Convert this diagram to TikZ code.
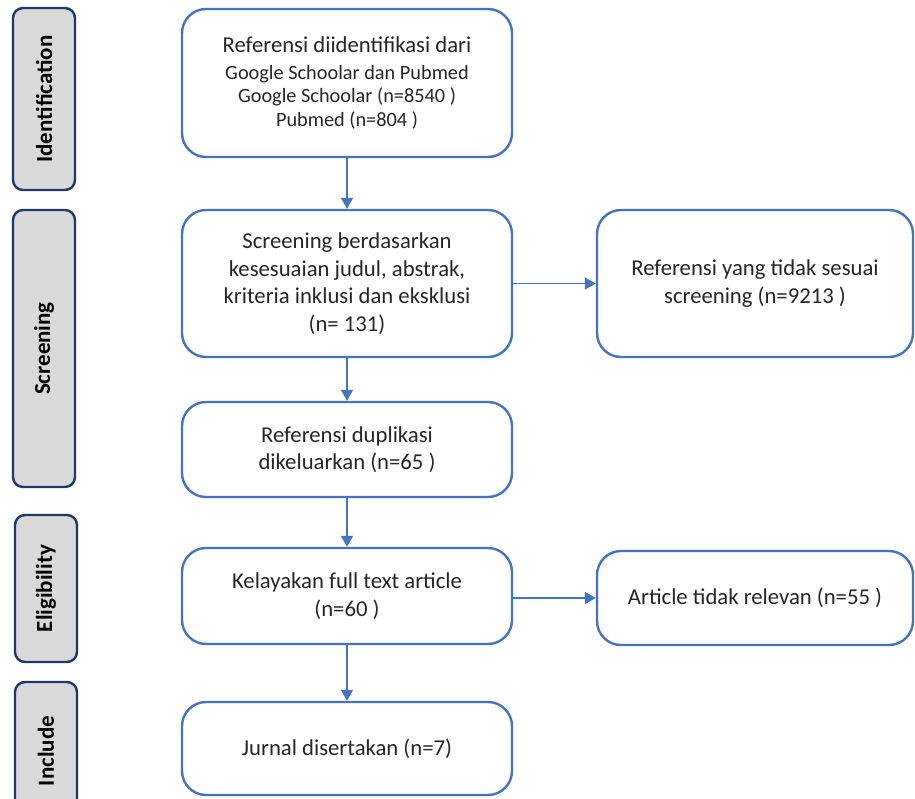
\documentclass[tikz,border=0pt]{standalone}
\usepackage{fontspec}
\setmainfont{Carlito}
\usetikzlibrary{arrows.meta}
\definecolor{boxblue}{HTML}{4472C4}
\definecolor{sidefill}{HTML}{D9D9D9}
\definecolor{sideline}{HTML}{1F3864}
\definecolor{txt}{HTML}{262626}
\begin{document}
\begin{tikzpicture}[x=1pt,y=-1pt,
 flowbox/.style={draw=boxblue, line width=2.4pt, rounded corners=24pt, fill=white, align=center, text=txt, font=\fontsize{22.7}{27.5}\selectfont, inner sep=0pt},
 sidebox/.style={draw=sideline, line width=2.4pt, rounded corners=10pt, fill=sidefill, inner sep=0pt, rotate=90, font=\fontsize{23}{26}\selectfont\bfseries, text=black},
 flow/.style={draw=boxblue, line width=1.4pt, -{Triangle[width=12pt,length=11pt]}}]
\useasboundingbox (0,0) rectangle (915,798);
\clip (0,0) rectangle (915,798);
% side labels
\node[sidebox, minimum width=182pt, minimum height=62pt] (sid) at (44,99) {Identification};
\node[sidebox, minimum width=277pt, minimum height=62pt] (ssc) at (44,348.5) {Screening};
\node[sidebox, minimum width=147pt, minimum height=62pt] (sel) at (46,588.5) {Eligibility};
\node[sidebox, minimum width=138pt, minimum height=62pt] (sin) at (46,751) {Include};
% flow boxes
\node[flowbox, font=\fontsize{20.3}{23.5}\selectfont, minimum width=330pt, minimum height=148pt] (b1) at (347,83)
 {{\fontsize{22.7}{27.5}\selectfont Referensi diidentifikasi dari}\\[3pt]
  Google Schoolar dan Pubmed\\
  Google Schoolar (n=8540 )\\ Pubmed (n=804 )};
\node[flowbox, minimum width=330pt, minimum height=147pt] (b2) at (347,283.5)
 {Screening berdasarkan\\ kesesuaian judul, abstrak,\\ kriteria inklusi dan eksklusi\\ (n= 131)};
\node[flowbox, minimum width=316pt, minimum height=147pt] (r1) at (755,283.5)
 {Referensi yang tidak sesuai\\ screening (n=9213 )};
\node[flowbox, minimum width=330pt, minimum height=95pt] (b3) at (347,449.5)
 {Referensi duplikasi\\ dikeluarkan (n=65 )};
\node[flowbox, minimum width=330pt, minimum height=96pt] (b4) at (347,596)
 {Kelayakan full text article\\ (n=60 )};
\node[flowbox, minimum width=316pt, minimum height=94pt] (r2) at (755,598)
 {Article tidak relevan (n=55 )};
\node[flowbox, minimum width=330pt, minimum height=93pt] (b5) at (347,748.5)
 {Jurnal disertakan (n=7)};
% connectors
\draw[flow] (b1) -- (b2);
\draw[flow] (b2) -- (b3);
\draw[flow] (b3) -- (b4);
\draw[flow] (b4) -- (b5);
\draw[flow] (b2.east) -- (r1.west);
\draw[flow] (r2.west -| b4.east) -- (r2.west);
\end{tikzpicture}
\end{document}
